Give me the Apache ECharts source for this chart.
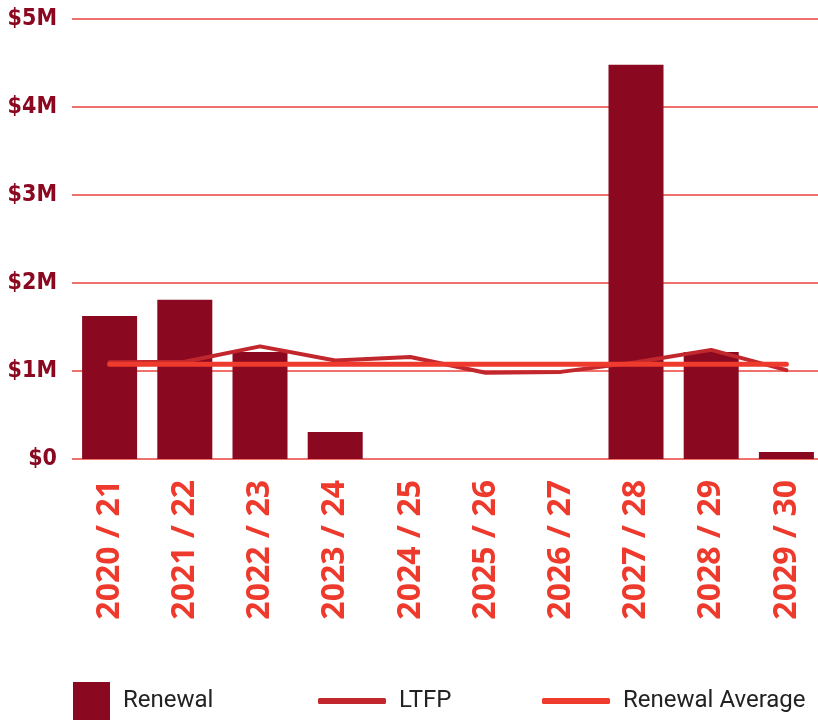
<!DOCTYPE html>
<html>
<head>
<meta charset="utf-8">
<style>
  html, body { margin: 0; padding: 0; background: #fff; overflow: hidden; }
  #chart { width: 824px; height: 722px; }
</style>
<script src="https://cdn.jsdelivr.net/npm/echarts@6/dist/echarts.min.js"></script>
</head>
<body>
<div id="chart"></div>
<script>
// values in $M
const years = ['2020 / 21', '2021 / 22', '2022 / 23', '2023 / 24', '2024 / 25',
  '2025 / 26', '2026 / 27', '2027 / 28', '2028 / 29', '2029 / 30']
const renewal = [1.625, 1.81, 1.216, 0.307, 0, 0, 0, 4.48, 1.216, 0.08]
const ltfp = [1.10, 1.105, 1.28, 1.12, 1.16, 0.98, 0.99, 1.10, 1.24, 1.01]
const renewalAvg = [1.076, 1.076, 1.076, 1.076, 1.076, 1.076, 1.076, 1.076, 1.076, 1.076]

const condensed = '"DejaVu Sans Condensed", "Roboto", sans-serif'
const legendText = { fontFamily: 'Roboto, sans-serif', fontSize: 24, color: '#222', padding: [0, 0, 0, 8] }

const chart = echarts.init(document.getElementById('chart'))

chart.setOption({
  backgroundColor: '#fff',
  animation: false,
  grid: { left: 72, right: 0, top: 19, bottom: 263 },
  legend: [
    {
      data: ['Renewal'], left: 73, top: 682, padding: 0, icon: 'rect',
      itemWidth: 37, itemHeight: 38,
      textStyle: legendText
    },
    {
      data: ['LTFP'], left: 318, top: 689, padding: 0, icon: 'roundRect',
      itemWidth: 68, itemHeight: 6,
      itemStyle: { borderWidth: 0 },
      textStyle: legendText
    },
    {
      data: ['Renewal Average'], left: 542, top: 689, padding: 0, icon: 'roundRect',
      itemWidth: 68, itemHeight: 6,
      itemStyle: { borderWidth: 0 },
      textStyle: legendText
    }
  ],
  xAxis: {
    type: 'category',
    data: years,
    axisLine: { show: false },
    axisTick: { show: false },
    axisLabel: {
      rotate: 90,
      margin: 21,
      color: '#ee3a2c',
      fontFamily: '"Open Sans", sans-serif',
      fontWeight: 'bold',
      fontSize: 32
    }
  },
  yAxis: {
    type: 'value',
    min: 0,
    max: 5,
    interval: 1,
    axisLine: { show: false },
    axisTick: { show: false },
    splitLine: { show: true, lineStyle: { color: ['#e8433a'], width: 1.5, opacity: 1 } },
    axisLabel: {
      margin: 15,
      color: '#8a0820',
      fontFamily: condensed,
      fontWeight: 'bold',
      fontSize: 23,
      formatter: v => v === 0 ? '$0' : '$' + v + 'M'
    }
  },
  series: [
    {
      name: 'Renewal',
      type: 'bar',
      data: renewal,
      barWidth: 55,
      itemStyle: { color: '#8a0820' }
    },
    {
      name: 'LTFP',
      type: 'line',
      data: ltfp,
      symbol: 'none',
      lineStyle: { color: '#c1272d', width: 4, cap: 'round', join: 'round' },
      itemStyle: { color: '#c1272d' }
    },
    {
      name: 'Renewal Average',
      type: 'line',
      data: renewalAvg,
      symbol: 'none',
      lineStyle: { color: '#ee3b2e', width: 5, cap: 'round' },
      itemStyle: { color: '#ee3b2e' }
    }
  ]
})
</script>
</body>
</html>
